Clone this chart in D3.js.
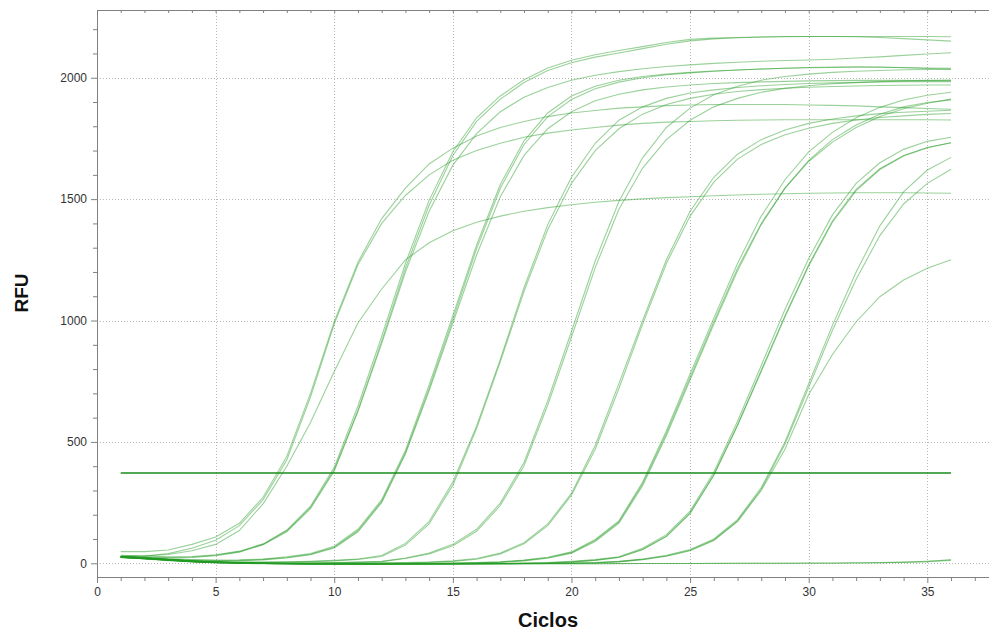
<!DOCTYPE html>
<html>
<head>
<meta charset="utf-8">
<script src="https://cdn.jsdelivr.net/npm/d3@7"></script>
<style>
  html, body { margin: 0; padding: 0; background: #fff; }
  svg { display: block; font-family: "Liberation Sans", Arial, Helvetica, sans-serif; }
</style>
</head>
<body>
<svg id="chart" width="989" height="633"></svg>
<script>
// Cycles 1..36
const cycles = d3.range(1, 37);
const xTicks = [0, 5, 10, 15, 20, 25, 30, 35];
const yTicks = [0, 500, 1000, 1500, 2000];
const threshold = 372;

// Amplification curves (RFU per cycle)
const A1 = [48,48,55,78,108,165,272,440,700,995,1240,1420,1545,1645,1710,1760,1795,1820,1840,1855,1865,1875,1880,1885,1888,1890,1890,1890,1890,1888,1886,1884,1880,1877,1873,1870];
const A2 = [28,30,40,62,95,155,262,425,685,985,1230,1400,1515,1600,1660,1700,1730,1755,1772,1785,1795,1805,1812,1817,1820,1823,1825,1826,1827,1827,1827,1827,1827,1827,1827,1826];
const A3 = [30,30,36,52,78,135,245,400,580,790,990,1130,1250,1320,1370,1405,1430,1450,1465,1477,1487,1495,1501,1506,1510,1514,1517,1520,1522,1524,1525,1526,1526,1526,1525,1524];
const B1 = [33,30,27,28,35,50,80,137,235,395,648,935,1235,1495,1695,1835,1925,1992,2040,2072,2095,2112,2128,2145,2158,2163,2166,2168,2170,2170,2170,2170,2170,2170,2170,2169];
const B2 = [28,26,24,26,33,48,78,134,230,385,630,915,1215,1475,1680,1820,1912,1980,2030,2062,2085,2102,2120,2138,2152,2160,2165,2168,2169,2170,2170,2169,2166,2161,2156,2151];
const B3 = [26,24,22,24,31,46,76,130,225,380,625,905,1200,1450,1640,1770,1860,1920,1960,1990,2010,2025,2037,2046,2053,2059,2064,2068,2071,2073,2076,2081,2086,2092,2098,2103];
const C1 = [30,25,19,15,13,14,18,27,40,70,140,262,465,735,1020,1310,1560,1740,1855,1925,1965,1990,2005,2015,2022,2028,2032,2036,2039,2041,2042,2043,2043,2042,2040,2039];
const C2 = [26,22,17,13,11,12,16,24,37,66,134,255,455,720,1005,1295,1545,1725,1840,1910,1955,1982,2000,2012,2020,2027,2032,2036,2039,2042,2044,2045,2044,2041,2038,2035];
const C3 = [24,20,15,11,9,10,14,22,35,63,130,250,450,710,990,1270,1510,1680,1790,1860,1905,1932,1950,1962,1970,1976,1980,1983,1985,1987,1988,1989,1989,1989,1988,1988];
const D1 = [28,22,15,9,6,5,5,6,8,12,18,32,82,172,335,565,840,1135,1395,1590,1730,1825,1880,1915,1937,1950,1960,1967,1972,1976,1979,1981,1983,1984,1984,1984];
const D2 = [25,20,14,8,5,4,4,5,7,10,16,28,75,162,322,555,830,1120,1375,1565,1700,1790,1850,1890,1915,1932,1943,1951,1957,1961,1964,1966,1968,1969,1970,1970];
const E1 = [28,22,15,9,5,3,2,2,2,3,5,8,22,42,78,140,248,415,670,955,1245,1490,1670,1795,1875,1930,1965,1990,2005,2015,2022,2027,2030,2033,2034,2035];
const E2 = [25,19,13,8,4,2,1,1,1,2,4,7,20,38,72,132,238,402,652,932,1218,1458,1628,1745,1825,1880,1915,1940,1956,1967,1975,1980,1984,1987,1989,1990];
const F1 = [28,22,15,9,5,2,1,0,0,0,1,2,3,5,10,20,42,85,162,288,485,740,1000,1250,1450,1590,1685,1745,1785,1812,1830,1843,1852,1858,1862,1866];
const F2 = [25,20,14,8,4,1,0,-1,-1,0,0,1,2,4,8,17,38,80,155,280,470,720,985,1235,1430,1570,1665,1725,1765,1792,1812,1826,1836,1843,1849,1853];
const G1 = [28,22,15,9,5,2,0,-1,-2,-2,-2,-1,-1,0,1,3,6,13,25,47,98,175,335,545,780,1010,1235,1430,1580,1695,1775,1835,1878,1908,1928,1940];
const G2 = [26,20,14,8,4,1,-1,-2,-2,-3,-2,-2,-1,-1,0,2,5,12,23,44,94,170,328,535,765,995,1215,1400,1545,1655,1735,1795,1840,1872,1895,1912];
const G3 = [24,19,13,7,3,0,-1,-2,-3,-3,-3,-2,-2,-1,0,2,4,10,21,42,90,165,320,525,755,985,1205,1395,1545,1660,1745,1805,1850,1880,1898,1909];
const H1 = [28,22,15,9,5,2,0,-1,-2,-2,-3,-3,-3,-2,-2,-1,0,1,3,8,15,27,62,118,215,375,585,815,1045,1255,1435,1565,1650,1705,1738,1755];
const H2 = [26,20,14,8,4,1,-1,-2,-3,-3,-3,-3,-3,-3,-2,-2,-1,0,2,6,13,25,58,112,208,365,570,795,1020,1230,1410,1540,1625,1680,1713,1732];
const H3 = [24,19,13,7,3,0,-1,-2,-3,-3,-4,-4,-3,-3,-3,-2,-1,0,1,5,12,24,56,110,205,362,568,790,1015,1225,1405,1535,1622,1678,1712,1732];
const I1 = [28,22,15,9,5,2,0,-1,-2,-2,-3,-3,-3,-3,-2,-2,-2,-1,0,1,3,8,18,33,57,100,180,312,500,740,980,1200,1390,1530,1620,1672];
const I2 = [26,20,14,8,4,1,-1,-2,-3,-3,-3,-3,-3,-3,-3,-2,-2,-1,-1,0,2,7,16,30,54,96,175,305,490,725,960,1170,1350,1480,1565,1623];
const I3 = [24,19,13,7,3,0,-1,-2,-3,-4,-4,-4,-3,-3,-3,-2,-2,-1,-1,0,2,6,15,29,52,94,172,300,470,695,860,995,1098,1167,1215,1250];
const N1 = [28,22,15,9,5,2,0,-1,-2,-2,-3,-3,-3,-3,-3,-3,-2,-2,-2,-2,-2,-1,-1,-1,-1,0,0,0,0,1,1,2,3,5,8,12];
const N2 = [25,18,11,6,2,0,-2,-3,-4,-4,-4,-4,-4,-4,-3,-3,-3,-3,-2,-2,-2,-2,-1,-1,-1,-1,0,0,0,0,0,1,2,4,7,15];

const series = [A1,A2,A3,B1,B2,B3,C1,C2,C3,D1,D2,E1,E2,F1,F2,G1,G2,G3,H1,H2,H3,I1,I2,I3,N1,N2];

const svg = d3.select("#chart");
const mLeft = 97, mRight = 989, mTop = 10, mBottom = 577;

const x = d3.scaleLinear().domain([0, 37.6]).range([mLeft, mRight]);
const y = d3.scaleLinear().domain([-56.4, 2279]).range([mBottom, mTop]);

// grid
const grid = svg.append("g").attr("stroke", "#b8b8b8").attr("stroke-width", 1).attr("stroke-dasharray", "1,2");
grid.selectAll("line.v").data(xTicks.filter(d => d > 0)).join("line")
  .attr("class", "v")
  .attr("x1", d => Math.round(x(d)) + 0.5).attr("x2", d => Math.round(x(d)) + 0.5)
  .attr("y1", mTop).attr("y2", mBottom);
grid.selectAll("line.h").data(yTicks).join("line")
  .attr("class", "h")
  .attr("x1", mLeft).attr("x2", mRight)
  .attr("y1", d => Math.round(y(d)) + 0.5).attr("y2", d => Math.round(y(d)) + 0.5);

// clip for data
svg.append("clipPath").attr("id", "clip").append("rect")
  .attr("x", mLeft).attr("y", mTop).attr("width", mRight - mLeft).attr("height", mBottom - mTop);

const line = d3.line().x((d, i) => x(cycles[i])).y(d => y(d));

const plot = svg.append("g").attr("clip-path", "url(#clip)");
plot.selectAll("path.curve").data(series).join("path")
  .attr("class", "curve")
  .attr("d", line)
  .attr("fill", "none")
  .attr("stroke", "#229a22")
  .attr("stroke-opacity", 0.46)
  .attr("stroke-width", 1.1);

// threshold line
plot.append("line")
  .attr("x1", x(1)).attr("x2", x(36))
  .attr("y1", y(threshold)).attr("y2", y(threshold))
  .attr("stroke", "#1a8c1a").attr("stroke-width", 1.3);

// axes
const axisColor = "#808080";
const xb = svg.append("g").attr("transform", `translate(0,${mBottom})`)
  .call(d3.axisBottom(x).tickValues(d3.range(0, 38)).tickSize(4).tickFormat(d => d % 5 === 0 ? d : ""));
xb.select(".domain").attr("stroke", axisColor).attr("d", `M${mLeft},0.5H${mRight}`);
xb.selectAll(".tick line").attr("stroke", axisColor).attr("y2", d => d % 5 === 0 ? 6 : 4);
xb.selectAll(".tick text").attr("fill", "#333").attr("font-size", 12).attr("dy", "0.71em").attr("y", 10);

const xt = svg.append("g").attr("transform", `translate(0,${mTop})`)
  .call(d3.axisBottom(x).tickValues(d3.range(0, 38)).tickSize(3).tickFormat(""));
xt.select(".domain").attr("stroke", axisColor).attr("d", `M${mLeft},0.5H${mRight}`);
xt.selectAll(".tick line").attr("stroke", axisColor);

const yl = svg.append("g").attr("transform", `translate(${mLeft},0)`)
  .call(d3.axisLeft(y).tickValues(d3.range(0, 2201, 100)).tickSize(4).tickFormat(d => d % 500 === 0 ? d : ""));
yl.select(".domain").attr("stroke", axisColor).attr("d", `M0.5,${mTop}V${mBottom}`);
yl.selectAll(".tick line").attr("stroke", axisColor).attr("x2", d => d % 500 === 0 ? -6 : -4);
yl.selectAll(".tick text").attr("fill", "#333").attr("font-size", 12).attr("x", -10);
svg.selectAll(".tick text").attr("font-family", "\"Liberation Sans\", Arial, sans-serif");

// axis titles
svg.append("text").attr("x", 548).attr("y", 627).attr("text-anchor", "middle")
  .attr("font-size", 20).attr("font-weight", "bold").attr("fill", "#111").text("Ciclos");
svg.append("text").attr("transform", "translate(28,293) rotate(-90)").attr("text-anchor", "middle")
  .attr("font-size", 19).attr("font-weight", "bold").attr("fill", "#111").text("RFU");
</script>
</body>
</html>
